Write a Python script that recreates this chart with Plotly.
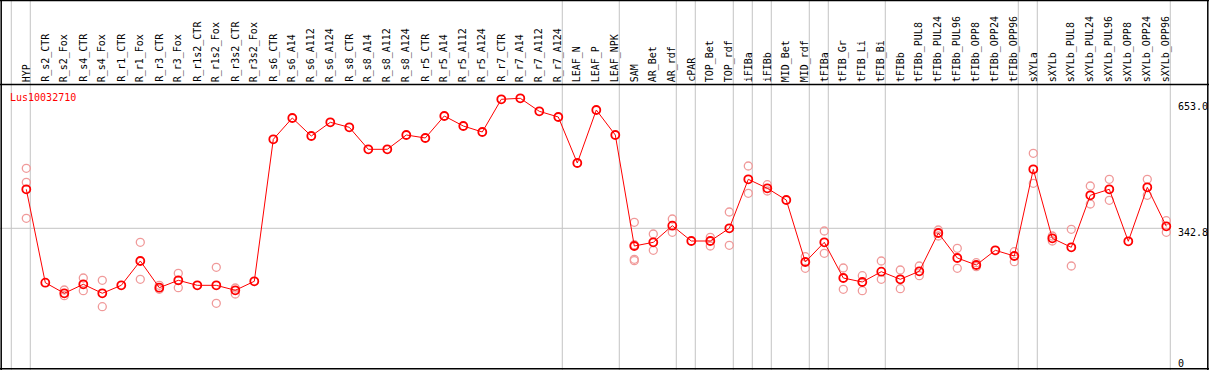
import plotly.graph_objects as go

gene = "Lus10032710"

labels = ["HYP", "R_s2_CTR", "R_s2_Fox", "R_s4_CTR", "R_s4_Fox", "R_r1_CTR", "R_r1_Fox",
          "R_r3_CTR", "R_r3_Fox", "R_r1s2_CTR", "R_r1s2_Fox", "R_r3s2_CTR", "R_r3s2_Fox",
          "R_s6_CTR", "R_s6_A14", "R_s6_A112", "R_s6_A124", "R_s8_CTR", "R_s8_A14", "R_s8_A112",
          "R_s8_A124", "R_r5_CTR", "R_r5_A14", "R_r5_A112", "R_r5_A124", "R_r7_CTR", "R_r7_A14",
          "R_r7_A112", "R_r7_A124", "LEAF_N", "LEAF_P", "LEAF_NPK", "SAM", "AR_Bet", "AR_rdf",
          "cPAR", "TOP_Bet", "TOP_rdf", "iFIBa", "iFIBb", "MID_Bet", "MID_rdf", "tFIBa",
          "tFIB_Gr", "tFIB_Li", "tFIB_Bi", "tFIBb", "tFIBb_PUL8", "tFIBb_PUL24", "tFIBb_PUL96",
          "tFIBb_OPP8", "tFIBb_OPP24", "tFIBb_OPP96", "sXYLa", "sXYLb", "sXYLb_PUL8",
          "sXYLb_PUL24", "sXYLb_PUL96", "sXYLb_OPP8", "sXYLb_OPP24", "sXYLb_OPP96"]

means = [437.9, 210.3, 184.5, 206.4, 184.5, 203.9, 263.2, 198.1, 216.1, 203.9, 203.9, 191.8, 213.7,
         559.7, 611.6, 567.7, 601.1, 588.9, 535.3, 535.3, 570.2, 562.9, 616.5, 592.1, 577.5,
         657.2, 659.6, 627.9, 614.0, 501.9, 631.1, 570.2, 299.7, 308.7, 349.2, 311.9, 311.9,
         342.8, 462.2, 440.3, 411.8, 260.7, 308.7, 221.7, 212.0, 237.1, 218.6, 238.1, 331.4,
         270.5, 253.4, 289.2, 275.3, 486.6, 318.5, 296.5, 423.2, 437.9, 311.2, 442.7, 347.7]

replicates = [
    [489.0, 454.9, 367.2], [], [192.5, 178.6], [221.7, 190.8], [216.1, 151.8], [],
    [308.7, 218.6], [203.9, 194.2], [233.2, 198.1], [], [247.8, 160.1], [197.4, 182.7], [],
    [], [], [], [], [], [], [], [], [], [], [], [], [], [], [], [], [], [], [],
    [357.4, 302.9, 267.3, 263.9], [328.9, 289.2], [365.5, 333.1], [], [320.9, 299.7],
    [382.5, 301.4], [494.6, 428.1], [449.1, 433.7], [], [273.6, 245.4], [336.3, 281.9],
    [246.1, 194.2], [227.3, 190.8], [263.2, 218.6], [241.2, 195.7], [251.0, 227.3],
    [338.7, 324.1], [294.1, 245.4], [259.0, 249.3], [], [285.8, 261.5], [525.6, 452.5],
    [324.1, 311.9], [340.4, 251.0], [445.9, 402.0], [462.2, 411.0], [], [462.2, 423.2],
    [361.3, 333.1],
]

# last column of each group (separators drawn just after these)
group_ends = [-1, 0, 28, 31, 34, 35, 37, 38, 39, 41, 42, 45, 52, 53, 60]

y_tick_vals = [653.0, 342.8, 0]
y_tick_text = ["653.0", "342.8", "0"]
ref_line = 342.8

W, H = 1209, 370
FONT = "DejaVu Sans Mono"

rx, ry = [], []
for lab, reps in zip(labels, replicates):
    for r in reps:
        rx.append(lab)
        ry.append(r)

fig = go.Figure()
fig.add_trace(go.Scatter(
    x=rx, y=ry, mode="markers",
    marker=dict(symbol="circle-open", size=8, color="#f09a9a", line=dict(width=1.3)),
    hoverinfo="skip"))
fig.add_trace(go.Scatter(
    x=labels, y=means, mode="lines+markers",
    line=dict(color="#ff0000", width=1),
    marker=dict(symbol="circle-open", size=8, color="#ff0000", line=dict(width=1.8))))

# x mapping: column i at pixel 26.3 + 19 i
x0 = -26.3 / 19
x1 = x0 + W / 19
# y mapping: value v at pixel 369 - 0.4104 v
k = 0.4104
y0 = -(H - 369) / k
y1 = 369 / k

shapes = []
for g in group_ends:
    shapes.append(dict(type="line", xref="x", yref="paper", x0=g + 0.21, x1=g + 0.21,
                       y0=0, y1=1, line=dict(color="#c4c4c4", width=1), layer="below"))
shapes.append(dict(type="line", xref="x", yref="y", x0=x0, x1=group_ends[-1] + 0.21,
                   y0=ref_line, y1=ref_line, line=dict(color="#c4c4c4", width=1), layer="below"))
# borders
blk = dict(color="black", width=1.5)
shapes += [
    dict(type="line", xref="paper", yref="paper", x0=0, x1=1, y0=1 - 0.5 / H, y1=1 - 0.5 / H, line=blk),
    dict(type="line", xref="paper", yref="paper", x0=0, x1=1, y0=1 - 84.5 / H, y1=1 - 84.5 / H, line=blk),
    dict(type="line", xref="paper", yref="paper", x0=0, x1=1, y0=1 - 368.8 / H, y1=1 - 368.8 / H, line=blk),
    dict(type="line", xref="paper", yref="paper", x0=1.2 / W, x1=1.2 / W, y0=0, y1=1, line=blk),
    dict(type="line", xref="paper", yref="paper", x0=1 - 1.2 / W, x1=1 - 1.2 / W, y0=0, y1=1, line=blk),
]

ann = []
for lab in labels:
    ann.append(dict(x=lab, xref="x", y=1 - 84 / H, yref="paper", text=lab, showarrow=False,
                    textangle=-90, xanchor="center", yanchor="bottom",
                    font=dict(family=FONT, size=10, color="black")))
ann.append(dict(x=8 / W, xref="paper", y=1 - 97.7 / H, yref="paper", text=gene, showarrow=False,
                xanchor="left", yanchor="middle", font=dict(family=FONT, size=10, color="#ff0000")))
shifts = [("top", 2), ("top", 3), ("middle", 6)]
for v, t, (anc, sh) in zip(y_tick_vals, y_tick_text, shifts):
    ann.append(dict(x=1176 / W, xref="paper", y=v, yref="y", text=t, showarrow=False,
                    xanchor="left", yanchor=anc, yshift=sh,
                    font=dict(family=FONT, size=10, color="black")))

fig.update_layout(
    width=W, height=H, margin=dict(l=0, r=0, t=0, b=0),
    paper_bgcolor="white", plot_bgcolor="white", showlegend=False,
    xaxis=dict(range=[x0, x1], type="category", categoryorder="array", categoryarray=labels,
               showgrid=False, zeroline=False, showticklabels=False, ticks="", showline=False),
    yaxis=dict(range=[y0, y1], showgrid=False, zeroline=False, showticklabels=False, ticks="",
               showline=False),
    shapes=shapes, annotations=ann,
)

fig.write_html("out.html", config={"displayModeBar": False},
               post_script="document.body.style.margin='0';document.body.style.overflow='hidden';")
